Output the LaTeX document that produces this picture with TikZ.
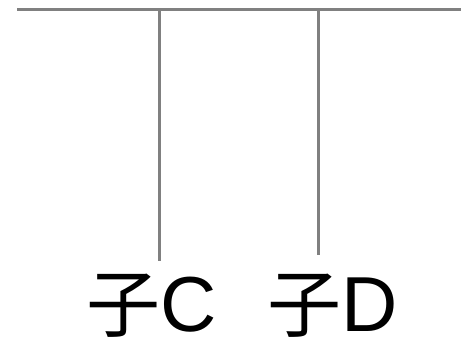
\documentclass[tikz,border=0pt]{standalone}
\usepackage{fontspec}
\newfontfamily\cjk{Noto Sans CJK SC}
\newfontfamily\lat{Liberation Sans}
\begin{document}
\begin{tikzpicture}[x=1pt,y=-1pt,
  wire/.style={draw=black!50, line width=3pt},
  lbl/.style={font=\cjk\fontsize{74}{78}\selectfont, inner sep=0pt, anchor=center}]
\useasboundingbox (0,0) rectangle (461,347);
\coordinate (L) at (17,10);
\coordinate (R) at (461,10);
\coordinate (tc) at (159,10);
\coordinate (td) at (318,10);
\coordinate (ec) at (159,261);
\coordinate (ed) at (318,255);
\draw[wire] (L) -- (R);
\draw[wire] (tc) -- (ec);
\draw[wire] (td) -- (ed);
\node[lbl] (c) at (152,306) {子{\lat\fontsize{78}{82}\selectfont C}};
\node[lbl] (d) at (333,306) {子{\lat\fontsize{78}{82}\selectfont D}};
\end{tikzpicture}
\end{document}
